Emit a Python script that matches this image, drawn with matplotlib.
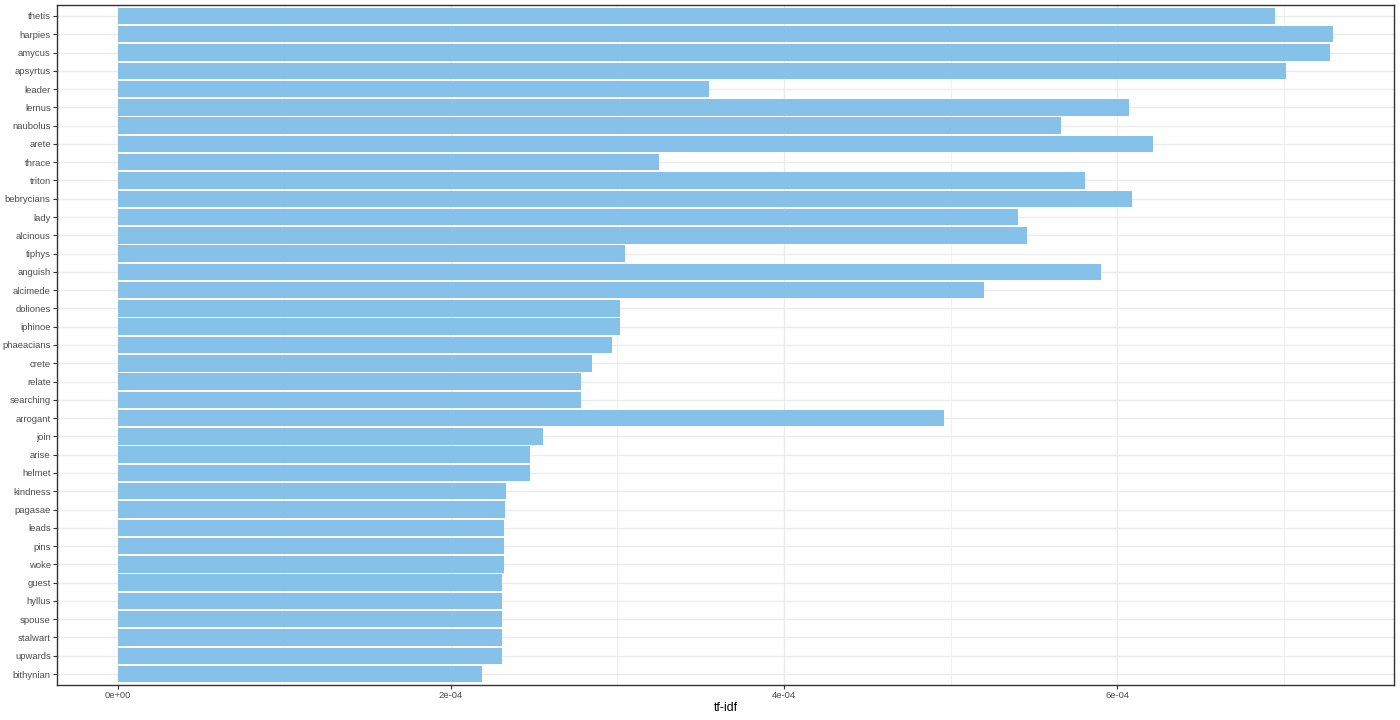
import matplotlib
matplotlib.use("Agg")
import matplotlib.pyplot as plt
from matplotlib.ticker import FixedLocator

plt.rcParams["font.family"] = ["Liberation Sans", "DejaVu Sans"]

# words from top to bottom, tf-idf values
words = ["thetis", "harpies", "amycus", "apsyrtus", "leader", "lernus", "naubolus",
         "arete", "thrace", "triton", "bebrycians", "lady", "alcinous", "tiphys",
         "anguish", "alcimede", "doliones", "iphinoe", "phaeacians", "crete",
         "relate", "searching", "arrogant", "join", "arise", "helmet", "kindness",
         "pagasae", "leads", "pins", "woke", "guest", "hyllus", "spouse",
         "stalwart", "upwards", "bithynian"]
tfidf = [6.949e-4, 7.297e-4, 7.279e-4, 7.015e-4, 3.550e-4, 6.072e-4, 5.664e-4,
         6.217e-4, 3.248e-4, 5.808e-4, 6.091e-4, 5.405e-4, 5.459e-4, 3.044e-4,
         5.903e-4, 5.200e-4, 3.015e-4, 3.015e-4, 2.966e-4, 2.846e-4,
         2.780e-4, 2.780e-4, 4.960e-4, 2.552e-4, 2.474e-4, 2.474e-4, 2.331e-4,
         2.324e-4, 2.318e-4, 2.318e-4, 2.318e-4, 2.306e-4, 2.306e-4, 2.306e-4,
         2.306e-4, 2.306e-4, 2.186e-4]

x_ticks = [0, 2e-4, 4e-4, 6e-4]
x_tick_labels = ["0e+00", "2e-04", "4e-04", "6e-04"]
x_minor = [1e-4, 3e-4, 5e-4, 7e-4]

fig = plt.figure(figsize=(14, 7.2), dpi=100)
ax = fig.add_axes([57 / 1400, 35 / 720, 1337 / 1400, 680 / 720])

n = len(words)
ypos = list(range(n - 1, -1, -1))
ax.barh(ypos, tfidf, height=0.9, color="#85C1E9", zorder=2)

xmax = max(tfidf)
pad = xmax * 0.05
ax.set_xlim(-pad, xmax + pad)
ax.set_ylim(-0.6, n - 1 + 0.6)

ax.set_yticks(ypos)
ax.set_yticklabels(words)
ax.xaxis.set_major_locator(FixedLocator(x_ticks))
ax.set_xticklabels(x_tick_labels)
ax.xaxis.set_minor_locator(FixedLocator(x_minor))

ax.grid(True, which="major", color="#EBEBEB", linewidth=1.0, zorder=0)
ax.grid(True, which="minor", axis="x", color="#EBEBEB", linewidth=0.5, zorder=0)
ax.set_axisbelow(True)

ax.tick_params(axis="both", which="major", length=3, width=0.8, color="#333333",
               labelsize=6.8, labelcolor="#4D4D4D", pad=1.5)
ax.tick_params(axis="x", which="minor", length=0)
for s in ax.spines.values():
    s.set_color("#333333")
    s.set_linewidth(1.0)

ax.set_xlabel("tf-idf", fontsize=8.8, color="black", labelpad=1.5)

fig.savefig("out.png", dpi=100)
